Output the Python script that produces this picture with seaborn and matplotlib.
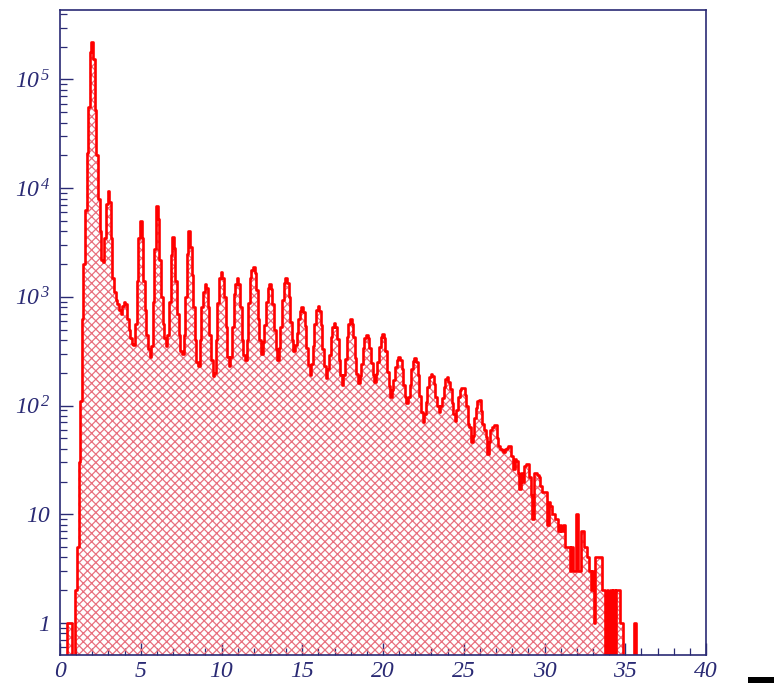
import numpy as np
import pandas as pd
import matplotlib
matplotlib.use("Agg")
import matplotlib.pyplot as plt
import matplotlib.ticker as mticker
from matplotlib.patches import Rectangle
import seaborn as sns

# ---- data: counts per 0.1-wide bin, bin centres 0.0, 0.1, ..., 35.9 ----
counts_00_05 = [0, 0, 0, 0, 0, 1, 1, 1, 0, 0,
                2, 5, 30, 110, 630, 2000, 6300, 21000, 56000, 178000,
                220000, 155000, 52000, 20000, 8000, 4000, 2200, 2100, 3500, 7200,
                9500, 7400, 3500, 1500, 1100, 930, 850, 760, 700, 830,
                900, 850, 630, 500, 420, 370, 360, 560, 1400, 3500]
counts_05_10 = [5000, 3500, 1400, 760, 450, 330, 280, 350, 900, 2750,
                6900, 5200, 2200, 1000, 560, 420, 350, 450, 900, 2400,
                3550, 2800, 1400, 700, 450, 320, 300, 450, 1000, 2500,
                4000, 2900, 1600, 800, 400, 250, 230, 400, 800, 1100,
                1320, 1200, 800, 450, 260, 185, 200, 400, 870, 1480]
counts_10_15 = [1700, 1480, 1000, 525, 280, 230, 280, 525, 1070, 1320,
                1500, 1320, 800, 400, 290, 260, 400, 870, 1500, 1780,
                1900, 1660, 1150, 630, 400, 300, 380, 550, 890, 1200,
                1320, 1170, 850, 500, 330, 260, 340, 525, 930, 1350,
                1500, 1350, 1000, 590, 400, 320, 360, 460, 620, 740]
counts_15_20 = [800, 720, 540, 340, 235, 190, 240, 350, 560, 760,
                830, 740, 550, 330, 230, 180, 215, 290, 425, 525,
                575, 525, 410, 265, 190, 155, 190, 270, 425, 560,
                620, 560, 425, 275, 195, 160, 185, 240, 340, 415,
                445, 415, 340, 245, 190, 165, 195, 250, 345, 425]
counts_20_25 = [455, 415, 315, 205, 150, 120, 138, 170, 225, 265,
                280, 265, 215, 155, 120, 105, 120, 155, 215, 255,
                275, 250, 190, 123, 87, 71, 83, 107, 148, 182,
                195, 186, 158, 120, 98, 87, 98, 117, 148, 174,
                182, 166, 141, 105, 83, 72, 91, 120, 138, 145]
counts_25_30 = [145, 126, 100, 68, 63, 46, 52, 76, 95, 110,
                112, 89, 68, 60, 51, 36, 46, 60, 63, 66,
                66, 50, 42, 40, 39, 37, 40, 41, 42, 42,
                34, 26, 32, 31, 24, 17, 24, 20, 28, 29,
                29, 22, 15, 9, 24, 24, 23, 22, 18, 16]
counts_30_36 = [16, 16, 8, 13, 12, 10, 10, 9, 9, 7,
                8, 7, 8, 5, 5, 5, 3, 5, 3, 3,
                10, 3, 3, 7, 7, 5, 5, 4, 3, 2,
                3, 1, 4, 4, 4, 4, 2, 2, 0, 2,
                0, 2, 0, 2, 0, 2, 2, 1, 1, 0,
                0, 0, 0, 0, 0, 0, 1, 0, 0, 0]

counts = (counts_00_05 + counts_05_10 + counts_10_15 + counts_15_20 +
          counts_20_25 + counts_25_30 + counts_30_36)
bin_width = 0.1
centers = np.round(np.arange(len(counts)) * bin_width, 2)
df = pd.DataFrame({"x": centers, "count": np.array(counts, dtype=float)})
bin_range = (-bin_width / 2, len(counts) * bin_width - bin_width / 2)

x_ticks = [0, 5, 10, 15, 20, 25, 30, 35, 40]
y_ticks = [1, 10, 100, 1000, 10000, 100000]
y_tick_labels = ["1", "10", r"$10^{\,2}$", r"$10^{\,3}$", r"$10^{\,4}$", r"$10^{\,5}$"]

# ---- style ----
sns.set_style("white")
plt.rcParams["font.family"] = ["Liberation Serif", "DejaVu Serif"]
plt.rcParams["font.style"] = "italic"
plt.rcParams["mathtext.fontset"] = "custom"
plt.rcParams["mathtext.rm"] = "Liberation Serif:italic"
plt.rcParams["mathtext.it"] = "Liberation Serif:italic"
plt.rcParams["hatch.color"] = "#e8707e"
plt.rcParams["hatch.linewidth"] = 0.9

navy = "#2a2a74"
red = "#ff0000"

fig = plt.figure(figsize=(7.83, 6.83), dpi=100)
ax = fig.add_axes([60 / 783, 28 / 683, 646 / 783, 645 / 683])
ax.set_yscale("log")

# hatched fill
sns.histplot(data=df, x="x", weights="count", binwidth=bin_width,
             binrange=bin_range, element="step",
             fill=True, color=red, linewidth=0, alpha=1.0, ax=ax)
for coll in ax.collections:
    coll.set_facecolor("none")
    coll.set_edgecolor("#e8707e")
    coll.set_hatch("xxxx")
    coll.set_linewidth(0)
    try:
        coll.set_hatchcolor("#e8707e")
    except Exception:
        pass

# outline
sns.histplot(data=df, x="x", weights="count", binwidth=bin_width,
             binrange=bin_range, element="step",
             fill=False, color=red, linewidth=1.9, ax=ax)

ax.set_xlim(0, 40)
ax.set_ylim(0.507, 4.35e5)
ax.set_xlabel("")
ax.set_ylabel("")

ax.xaxis.set_major_locator(mticker.FixedLocator(x_ticks))
ax.xaxis.set_minor_locator(mticker.MultipleLocator(1))
ax.set_xticklabels([str(t) for t in x_ticks])
ax.yaxis.set_major_locator(mticker.FixedLocator(y_ticks))
ax.yaxis.set_minor_locator(mticker.LogLocator(base=10, subs=np.arange(2, 10)))
ax.yaxis.set_minor_formatter(mticker.NullFormatter())
ax.set_yticklabels(y_tick_labels)

ax.tick_params(axis="both", which="major", direction="in", length=9, width=1.0,
               color=navy, labelcolor=navy, labelsize=17)
ax.tick_params(axis="both", which="minor", direction="in", length=5, width=0.9,
               color=navy)
ax.tick_params(axis="x", which="both", bottom=True, top=False, pad=4)
ax.tick_params(axis="y", which="both", left=True, right=False, pad=7)

for s in ax.spines.values():
    s.set_visible(True)
    s.set_color(navy)
    s.set_linewidth(1.2)

fig.patches.append(Rectangle((748 / 783, 0), 26 / 783, 6 / 683,
                             transform=fig.transFigure, facecolor="black",
                             edgecolor="none"))

fig.savefig("out.png", dpi=100)
